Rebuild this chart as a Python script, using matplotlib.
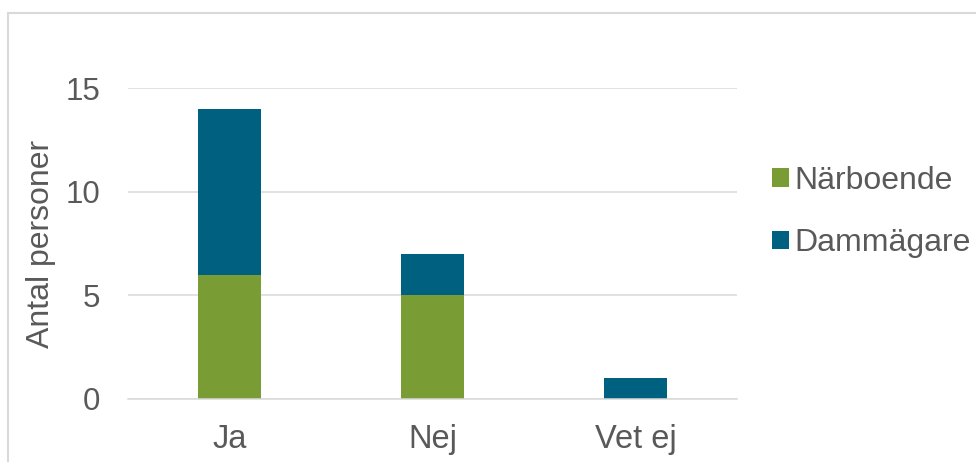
import matplotlib
matplotlib.use("Agg")
import matplotlib.pyplot as plt
from matplotlib.patches import Rectangle

# Data
categories = ["Ja", "Nej", "Vet ej"]
narboende = [6, 5, 0]
dammagare = [8, 2, 1]
yticks = [0, 5, 10, 15]

green = "#7A9C35"
blue = "#00607F"
text_color = "#595959"
grid_color = "#D9D9D9"

plt.rcParams["font.family"] = ["Liberation Sans", "DejaVu Sans"]

fig = plt.figure(figsize=(9.76, 4.62), dpi=100)

# chart area border (cropped on right and bottom)
fig.patches.append(Rectangle((8 / 976, -0.1), 1.2, (462 - 13) / 462 + 0.1,
                             transform=fig.transFigure, fill=False,
                             edgecolor=grid_color, linewidth=1.5))

ax = fig.add_axes([128 / 976, 63 / 462, 609 / 976, 311 / 462])

x = range(len(categories))
bar_w = 0.313
b1 = ax.bar(x, narboende, width=bar_w, color=green, label="Närboende", zorder=3)
b2 = ax.bar(x, dammagare, width=bar_w, bottom=narboende, color=blue,
            label="Dammägare", zorder=3)

ax.set_xlim(-0.5, 2.5)
ax.set_ylim(0, 15)
ax.set_yticks(yticks)
ax.set_xticks(list(x))
ax.set_xticklabels(categories)

ax.grid(axis="y", color=grid_color, linewidth=1.1, zorder=0)
for side in ["top", "right", "left"]:
    ax.spines[side].set_visible(False)
ax.spines["bottom"].set_color(grid_color)
ax.spines["bottom"].set_linewidth(1.1)
ax.spines["bottom"].set_zorder(4)

ax.tick_params(axis="both", length=0, labelcolor=text_color)
ax.tick_params(axis="y", pad=20, labelsize=22.5)
ax.tick_params(axis="x", pad=18, labelsize=23.5)

ax.set_ylabel("Antal personer", fontsize=23, color=text_color)
ax.yaxis.set_label_coords(-0.118, 0.5)

ax.legend(handles=[b1, b2], loc="center left",
          bbox_to_anchor=(772 / 976, 250 / 462), bbox_transform=fig.transFigure,
          frameon=False, fontsize=23, labelcolor=text_color,
          handlelength=0.53, handleheight=0.53, handletextpad=0.18,
          labelspacing=1.02, borderaxespad=0, borderpad=0)

fig.savefig("out.png", dpi=100)
